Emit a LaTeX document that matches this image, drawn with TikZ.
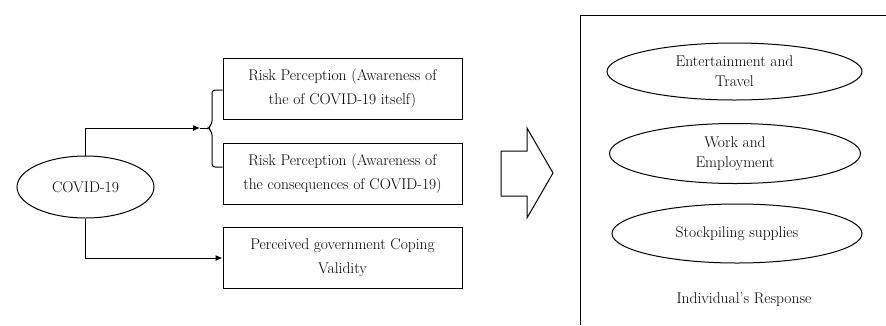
\documentclass[tikz,border=0pt]{standalone}
\usetikzlibrary{shapes.geometric,arrows.meta}
\begin{document}
\begin{tikzpicture}[x=1pt, y=-1pt, line width=1pt,
    every node/.style={font=\fontsize{15.5}{24}\selectfont},
    box/.style={draw, minimum width=239pt, minimum height=61pt, align=center, inner sep=0pt},
    oval/.style={draw, ellipse, align=center, inner xsep=0pt, inner ysep=-10pt, font=\fontsize{15.5}{20}\selectfont},
    conn/.style={-{Latex[length=7pt,width=6pt]}}]
    \useasboundingbox (0,0) rectangle (886,325);
    % left side
    \node[oval, minimum width=137pt, minimum height=62pt] (cov) at (85.5,187) {COVID-19};
    \node[box] (rp1) at (342.5,88.5) {Risk Perception (Awareness of\\the of COVID-19 itself)};
    \node[box] (rp2) at (342.5,173.5) {Risk Perception (Awareness of\\the consequences of COVID-19)};
    \node[box] (gov) at (342.5,258) {Perceived government Coping\\Validity};
    \coordinate (tip) at (200,128);
    \draw[conn] (cov.north) |- (tip);
    \draw[conn] (cov.south) |- (gov.west);
    \draw[rounded corners=3pt] (rp1.west |- 0,90) -- (212,90) -- (212,124) -- (208,128) -- (212,132) -- (212,167) -- (rp2.west |- 0,167);
    \draw (tip) -- (208,128);
    % big arrow
    \draw (501,151) -- (527,151) -- (527,128) -- (553,173) -- (527,218) -- (527,196) -- (501,196) -- cycle;
    % right side
    \draw (886,15) -- (580,15) -- (580,325);
    \node[oval, minimum width=255pt, minimum height=57pt] (ent) at (734.5,71.5) {Entertainment and\\Travel};
    \node[oval, minimum width=251pt, minimum height=60pt] (work) at (735,153.5) {Work and\\Employment};
    \node[oval, minimum width=250pt, minimum height=59pt] (stock) at (737,233.5) {Stockpiling supplies};
    \node (resp) at (744,300) {Individual’s Response};
\end{tikzpicture}
\end{document}
